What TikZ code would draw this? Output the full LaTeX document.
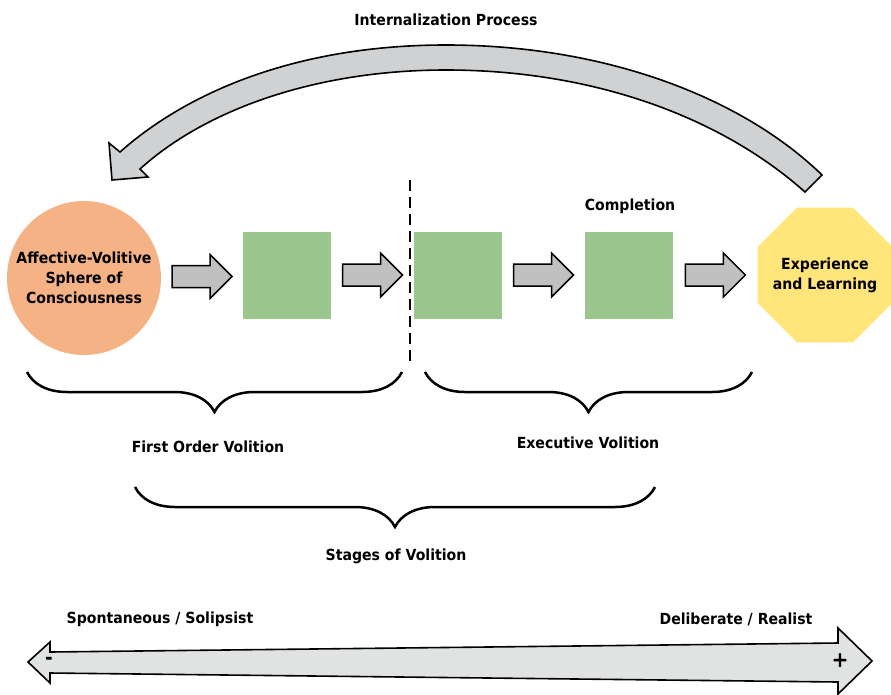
\documentclass[tikz,border=0pt]{standalone}
\usepackage{fontspec}
\setmainfont{DejaVu Sans}[FakeStretch=0.92]
\usetikzlibrary{shapes.geometric,decorations.pathreplacing,calc}

\definecolor{sphereorange}{HTML}{F5B285}
\definecolor{stagegreen}{HTML}{9BC68E}
\definecolor{learnyellow}{HTML}{FFE57A}
\definecolor{flowgray}{HTML}{BFC0BF}
\definecolor{loopgray}{HTML}{D0D1D2}
\definecolor{axisgray}{HTML}{E1E2E2}

\begin{document}
\begin{tikzpicture}[
    x=1pt, y=-1pt,
    font=\fontsize{15.3}{20}\selectfont\bfseries,
    stage/.style={rectangle, fill=stagegreen, minimum width=88pt, minimum height=87pt, inner sep=0pt},
    flow/.style={draw=black, line width=1.5pt, fill=flowgray, line join=miter},
    curly/.style={decorate, decoration={brace, amplitude=40pt}, line width=2.5pt},
    lbl/.style={align=center, inner sep=0pt}
]
    \useasboundingbox (0,0) rectangle (891,694);

    % Start and end of the chain
    \node[circle, fill=sphereorange, minimum size=154pt, inner sep=0pt, align=center] (sphere) at (84,278)
        {Affective-Volitive\\Sphere of\\Consciousness\rule{0pt}{6pt}};
    \node[regular polygon, regular polygon sides=8, fill=learnyellow, minimum size=146pt, inner sep=0pt, outer sep=0pt] (learn) at (825,275) {};
    \node[lbl] (learntext) at (learn.center) {Experience\\and Learning};

    % Stages
    \node[stage] (stage1) at (287,275) {};
    \node[stage] (stage2) at (458,275) {};
    \node[stage] (stage3) at (629,275) {};
    \node[lbl] (completion) at (630,206) {Completion};

    % Block arrows between the stages
    \foreach \a/\b [count=\i] in {sphere/stage1, stage1/stage2, stage2/stage3, stage3/learn} {
        \coordinate (flow\i) at ($(\a.east)!0.5!(\b.west)$);
        \draw[flow, shift={(flow\i)}] (-30,-11) -- (8,-11) -- (8,-22) -- (30,0)
            -- (8,22) -- (8,11) -- (-30,11) -- cycle;
    }

    % Divider
    \draw[line width=2.8pt, dash pattern=on 11pt off 6pt] (410,180) -- (410,366);

    % Internalization loop
    \node[lbl] (internal) at (446,20) {Internalization Process};
    \draw[fill=loopgray, line width=1.6pt, line join=miter]
        (822,175) .. controls (745,100) and (610,45) .. (446,45)
        .. controls (300,45) and (190,90) .. (120,152)
        -- (109,143) -- (112,180) -- (148,177) -- (140,169)
        .. controls (205,110) and (315,70) .. (446,70)
        .. controls (595,70) and (722,118) .. (805,192) -- cycle;

    % Braces
    \draw[curly] (402,372) -- (27,372);
    \draw[curly] (752,372) -- (425,372);
    \draw[curly] (655,487) -- (135,487);
    \node[lbl] (firstorder) at (208,447) {First Order Volition};
    \node[lbl] (executive) at (588,443) {Executive Volition};
    \node[lbl] (stages) at (396,556) {Stages of Volition};

    % Scale
    \node[lbl] (spont) at (160,619) {Spontaneous / Solipsist};
    \node[lbl] (delib) at (736,619) {Deliberate / Realist};
    \draw[fill=axisgray, line width=1.6pt, line join=miter]
        (28,662) -- (50,642) -- (50,652) -- (838,643) -- (838,628) -- (872,661)
        -- (838,694) -- (838,682) -- (50,673) -- (50,683) -- cycle;
    \node[lbl, font=\fontsize{20}{20}\selectfont\bfseries] (minus) at (49,661) {-};
    \node[lbl, font=\fontsize{22}{22}\selectfont\bfseries] (plus) at (840,661) {+};
\end{tikzpicture}
\end{document}
